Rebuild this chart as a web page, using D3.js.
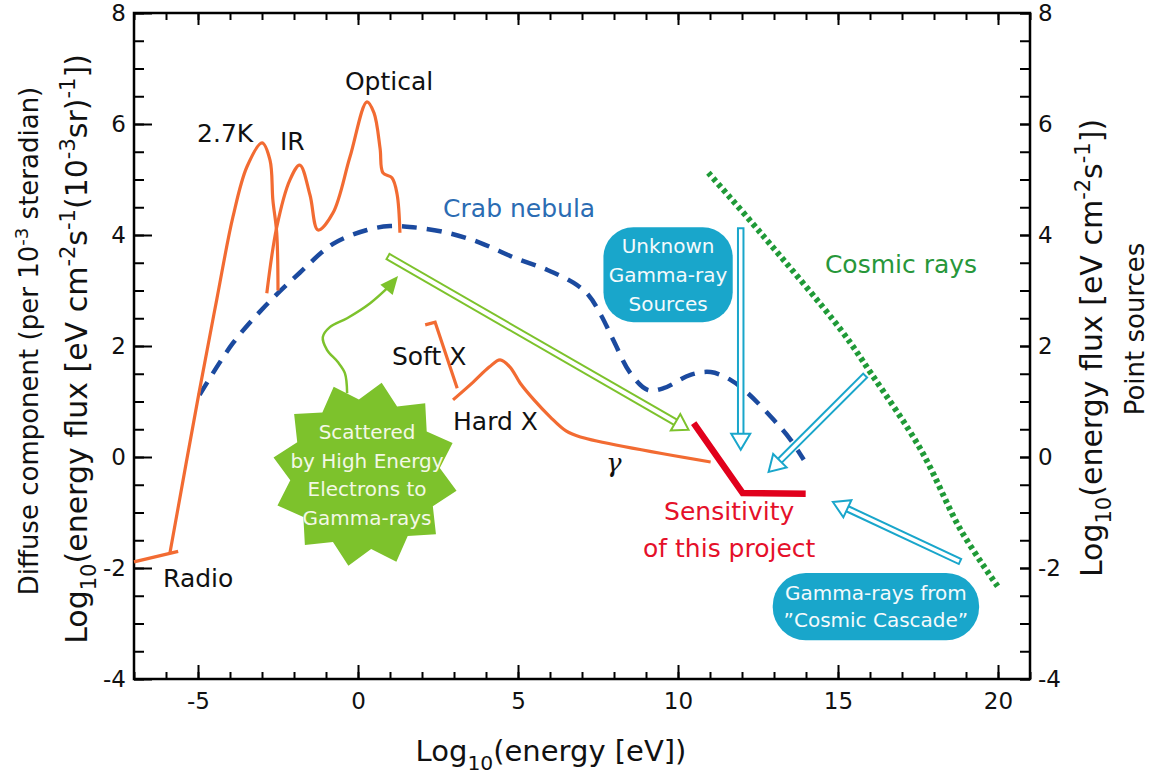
<!DOCTYPE html>
<html>
<head>
<meta charset="UTF-8">
<title>Diffuse and point-source energy flux</title>
<script src="https://d3js.org/d3.v7.min.js"></script>
<style>
  body { margin: 0; background: #fff; }
  svg { font-family: "DejaVu Sans", sans-serif; }
  text { white-space: pre; }
</style>
</head>
<body>
<svg width="1151" height="774"></svg>
<script>
// axis tick labels
const xTicks = [-5, 0, 5, 10, 15, 20];
const yTicks = [-4, -2, 0, 2, 4, 6, 8];

// diffuse background, [log10 E (eV), log10 flux]
const radio = [[-7.0, -1.89], [-5.62, -1.70]];
const cmb = [[-5.88, -1.74], [-4.98, 1.12], [-4.41, 2.85], [-3.91, 4.32], [-3.47, 5.23],
  [-3.0, 5.66], [-2.75, 5.35], [-2.66, 4.63], [-2.54, 4.04], [-2.5, 3.0]];
const irOptical = [[-2.85, 2.95], [-2.54, 4.14], [-2.13, 4.99], [-1.82, 5.26], [-1.5, 4.72],
  [-1.25, 4.09], [-0.78, 4.40], [-0.25, 5.41], [0.28, 6.40], [0.5, 6.2], [0.69, 5.56],
  [0.78, 5.12], [1.06, 5.03], [1.22, 4.74], [1.31, 4.04]];
const softX = [[2.10, 2.38], [2.41, 2.43], [3.10, 1.24]];
const hardX = [[2.97, 1.03], [3.6, 1.35], [4.1, 1.62], [4.44, 1.75], [4.75, 1.62], [5.07, 1.33],
  [5.5, 1.03], [6.01, 0.72], [6.5, 0.47], [6.95, 0.36], [11.02, -0.09]];

// point sources
const crab = [[-4.95, 1.12], [-3.91, 2.05], [-2.9, 2.72], [-1.82, 3.32], [-0.78, 3.84],
  [0.28, 4.09], [1.0, 4.16], [1.72, 4.14], [2.79, 4.04], [3.82, 3.86], [4.85, 3.60],
  [5.92, 3.37], [6.73, 3.14], [7.2, 2.92], [7.6, 2.55], [8.0, 2.08], [8.5, 1.52], [9.05, 1.21],
  [9.55, 1.24], [10.39, 1.48], [11.02, 1.53], [11.64, 1.39], [12.18, 1.15], [12.99, 0.67],
  [13.52, 0.31], [13.93, -0.05]];
const cosmicRays = [[10.95, 5.12], [12.58, 4.04], [15.09, 2.29], [16.03, 1.51],
  [17.59, 0.13], [18.84, -1.32], [20.0, -2.34]];
const sensitivity = [[10.49, 0.61], [12.02, -0.65], [13.99, -0.66]];

// annotations (data units)
const greenArrow = [[0.91, 3.62], [10.33, 0.49]];
const cyanArrows = [
  [[11.96, 4.14], [11.96, 0.13]],
  [[15.87, 1.48], [12.83, -0.27]],
  [[18.84, -1.89], [14.84, -0.81]]
];
const curl = [[-0.34, 1.15], [-0.41, 1.51], [-0.63, 1.71], [-0.97, 1.93], [-1.10, 2.16],
  [-0.88, 2.34], [-0.34, 2.50], [0.38, 2.77], [1.02, 3.10]];
const curlTip = [1.25, 3.26];
const starCenter = [0.22, -0.31];
const starLines = ['Scattered', 'by High Energy', 'Electrons to', 'Gamma-rays'];
const unknownBox = { x0: 7.67, x1: 11.71, y0: 4.14, y1: 2.43, lines: ['Unknown', 'Gamma-ray', 'Sources'] };
const cascadeBox = { x0: 12.96, x1: 19.41, y0: -2.09, y1: -3.30, lines: ['Gamma-rays from', '\u201DCosmic Cascade\u201D'] };

const labels = [
  { t: '2.7K', p: [-5.03, 5.68], c: '#111' },
  { t: 'IR', p: [-2.44, 5.53], c: '#111' },
  { t: 'Optical', p: [-0.41, 6.61], c: '#111' },
  { t: 'Crab nebula', p: [2.66, 4.32], c: '#2b6cb3' },
  { t: 'Cosmic rays', p: [14.59, 3.32], c: '#27973a' },
  { t: 'Soft X', p: [1.06, 1.66], c: '#111' },
  { t: 'Hard X', p: [2.97, 0.49], c: '#111' },
  { t: 'Radio', p: [-6.09, -2.34], c: '#111' }
];

const svg = d3.select('svg');
const x = d3.scaleLinear().domain([-7, 21]).range([134, 1030]);
const y = d3.scaleLinear().domain([-4, 8]).range([679, 13]);
const P = d => [x(d[0]), y(d[1])];

const orange = '#f26b32', navy = '#1b4a9f', cyan = '#19a6cb', lime = '#7dc22c';

function rich(text, parts, size) {
  let shift = 0;
  parts.forEach(([s, mode]) => {
    const target = mode === 'sup' ? -0.4 * size : mode === 'sub' ? 0.3 * size : 0;
    const t = text.append('tspan').text(s).attr('dy', target - shift);
    if (mode) t.attr('font-size', size * 0.7);
    shift = target;
  });
}

function styleAxis(g) {
  g.select('.domain').remove();
  g.selectAll('line').attr('stroke', '#000').attr('stroke-width', 2);
  g.selectAll('text').attr('font-size', 23).attr('font-family', 'DejaVu Sans').attr('fill', '#111');
}

// axes, ticks pointing inwards
const fmt = d => String(d);
svg.append('g').attr('transform', 'translate(0,679)')
  .call(d3.axisBottom(x).tickValues(d3.range(-7, 22)).tickSize(-7).tickFormat('')).call(styleAxis);
svg.append('g').attr('transform', 'translate(0,679)')
  .call(d3.axisBottom(x).tickValues(xTicks).tickSize(-14).tickPadding(14).tickFormat(fmt)).call(styleAxis);
svg.append('g').attr('transform', 'translate(0,13)')
  .call(d3.axisTop(x).tickValues(d3.range(-7, 22)).tickSize(-7).tickFormat('')).call(styleAxis);
svg.append('g').attr('transform', 'translate(0,13)')
  .call(d3.axisTop(x).tickValues(xTicks).tickSize(-12).tickFormat('')).call(styleAxis);
svg.append('g').attr('transform', 'translate(134,0)')
  .call(d3.axisLeft(y).tickValues(d3.range(-4, 8.01, 0.5)).tickSize(-10).tickFormat('')).call(styleAxis);
svg.append('g').attr('transform', 'translate(134,0)')
  .call(d3.axisLeft(y).tickValues(yTicks).tickSize(-18).tickPadding(8).tickFormat(fmt)).call(styleAxis);
svg.append('g').attr('transform', 'translate(1030,0)')
  .call(d3.axisRight(y).tickValues(d3.range(-4, 8.01, 0.5)).tickSize(-10).tickFormat('')).call(styleAxis);
svg.append('g').attr('transform', 'translate(1030,0)')
  .call(d3.axisRight(y).tickValues(yTicks).tickSize(-10).tickPadding(8).tickFormat(fmt)).call(styleAxis);

svg.append('rect')
  .attr('x', x(-7)).attr('y', y(8))
  .attr('width', x(21) - x(-7)).attr('height', y(-4) - y(8))
  .attr('fill', 'none').attr('stroke', '#000').attr('stroke-width', 2.5);

// axis titles
const xt = svg.append('text').attr('x', 551).attr('y', 761).attr('text-anchor', 'middle')
  .attr('font-size', 29).attr('fill', '#111');
rich(xt, [['Log', ''], ['10', 'sub'], ['(energy [eV])', '']], 29);

const yt1 = svg.append('text').attr('transform', 'translate(38,341) rotate(-90)')
  .attr('text-anchor', 'middle').attr('font-size', 26).attr('fill', '#111');
rich(yt1, [['Diffuse component (per 10', ''], ['-3', 'sup'], [' steradian)', '']], 26);

const yt2 = svg.append('text').attr('transform', 'translate(87,349) rotate(-90)')
  .attr('text-anchor', 'middle').attr('font-size', 30).attr('fill', '#111');
rich(yt2, [['Log', ''], ['10', 'sub'], ['(energy flux [eV cm', ''], ['-2', 'sup'], ['s', ''],
  ['-1', 'sup'], ['(10', ''], ['-3', 'sup'], ['sr)', ''], ['-1', 'sup'], ['])', '']], 30);

const yt3 = svg.append('text').attr('transform', 'translate(1102,348) rotate(-90)')
  .attr('text-anchor', 'middle').attr('font-size', 30).attr('fill', '#111');
rich(yt3, [['Log', ''], ['10', 'sub'], ['(energy flux [eV cm', ''], ['-2', 'sup'], ['s', ''],
  ['-1', 'sup'], ['])', '']], 30);

svg.append('text').attr('transform', 'translate(1144,329) rotate(-90)')
  .attr('text-anchor', 'middle').attr('font-size', 26).attr('fill', '#111').text('Point sources');

// starburst
const [scx, scy] = P(starCenter);
const nPts = 12, rOut = 93, rIn = 75;
const starPts = d3.range(nPts * 2).map(i => {
  const a = -Math.PI / 2 + 0.18 + i * Math.PI / nPts;
  const r = i % 2 ? rIn : rOut;
  return [scx + r * Math.cos(a), scy + r * Math.sin(a)];
});
svg.append('polygon').attr('points', starPts.map(p => p.join(',')).join(' ')).attr('fill', lime);
svg.append('g').selectAll('text').data(starLines).join('text')
  .attr('x', scx + 2).attr('y', (d, i) => scy - 35 + i * 28.5)
  .attr('text-anchor', 'middle').attr('font-size', 20).attr('fill', '#f3f8e6').text(d => d);

// curly arrow from the star
const line = d3.line().x(d => x(d[0])).y(d => y(d[1])).curve(d3.curveCatmullRom.alpha(0.5));
svg.append('path').attr('d', line(curl)).attr('fill', 'none').attr('stroke', lime).attr('stroke-width', 2.5);
(function () {
  const [bx, by] = P(curl[curl.length - 1]);
  const [tx, ty] = P(curlTip);
  const dx = tx - bx, dy = ty - by, L = Math.hypot(dx, dy);
  const ux = dx / L, uy = dy / L, hl = 18, hw = 8;
  const b0 = [tx - ux * hl, ty - uy * hl];
  svg.append('polygon')
    .attr('points', [[tx, ty], [b0[0] - uy * hw, b0[1] + ux * hw], [b0[0] + uy * hw, b0[1] - ux * hw]].map(p => p.join(',')).join(' '))
    .attr('fill', lime);
})();

// hollow double-line arrows
function hollowArrow(from, to, color, shaftW, headW, headL) {
  const [x0, y0] = P(from), [x1, y1] = P(to);
  const dx = x1 - x0, dy = y1 - y0, L = Math.hypot(dx, dy);
  const ux = dx / L, uy = dy / L;
  const bx = x1 - ux * headL, by = y1 - uy * headL;
  const g = svg.append('g');
  g.append('line').attr('x1', x0).attr('y1', y0).attr('x2', bx).attr('y2', by)
    .attr('stroke', color).attr('stroke-width', shaftW);
  g.append('line').attr('x1', x0 + ux * 2).attr('y1', y0 + uy * 2).attr('x2', bx).attr('y2', by)
    .attr('stroke', '#fff').attr('stroke-width', shaftW - 4);
  g.append('polygon')
    .attr('points', [[x1, y1], [bx - uy * headW / 2, by + ux * headW / 2], [bx + uy * headW / 2, by - ux * headW / 2]]
      .map(p => p.join(',')).join(' '))
    .attr('fill', '#fff').attr('stroke', color).attr('stroke-width', 2);
}
hollowArrow(greenArrow[0], greenArrow[1], lime, 8, 19, 15);

// crab nebula
svg.append('path').attr('d', line(crab)).attr('fill', 'none')
  .attr('stroke', navy).attr('stroke-width', 4.5).attr('stroke-dasharray', '15,10');

// diffuse components
[radio, cmb, irOptical].forEach(d => svg.append('path').attr('d', line(d)).attr('fill', 'none')
  .attr('stroke', orange).attr('stroke-width', 3.2).attr('stroke-linejoin', 'round'));
const straight = d3.line().x(d => x(d[0])).y(d => y(d[1]));
svg.append('path').attr('d', straight(softX)).attr('fill', 'none')
  .attr('stroke', orange).attr('stroke-width', 3.2);
svg.append('path').attr('d', line(hardX)).attr('fill', 'none')
  .attr('stroke', orange).attr('stroke-width', 3.2);

// cosmic rays
svg.append('path').attr('d', line(cosmicRays)).attr('fill', 'none')
  .attr('stroke', '#1f9a37').attr('stroke-width', 6).attr('stroke-dasharray', '4,3.5');

// sensitivity
svg.append('path').attr('d', straight(sensitivity)).attr('fill', 'none')
  .attr('stroke', '#e1001c').attr('stroke-width', 6.5).attr('stroke-linejoin', 'miter');

// cyan arrows
cyanArrows.forEach(a => hollowArrow(a[0], a[1], cyan, 7.5, 19, 16));

// boxes
[[unknownBox, 30], [cascadeBox, 33]].forEach(([b, r]) => {
  const bx = x(b.x0), by = y(b.y0), bw = x(b.x1) - x(b.x0), bh = y(b.y1) - y(b.y0);
  svg.append('rect').attr('x', bx).attr('y', by).attr('width', bw).attr('height', bh)
    .attr('rx', r).attr('ry', r).attr('fill', cyan);
  const n = b.lines.length;
  svg.append('g').selectAll('text').data(b.lines).join('text')
    .attr('x', bx + bw / 2).attr('y', (d, i) => by + bh / 2 + (i - (n - 1) / 2) * (n > 2 ? 29 : 27) + 7)
    .attr('text-anchor', 'middle').attr('font-size', 20).attr('fill', '#f4fafc').text(d => d);
});

// curve labels
svg.append('g').selectAll('text').data(labels).join('text')
  .attr('x', d => x(d.p[0])).attr('y', d => y(d.p[1]))
  .attr('font-size', 25).attr('fill', d => d.c).text(d => d.t);
svg.append('text').attr('x', x(7.75)).attr('y', y(-0.27)).attr('font-size', 26)
  .attr('font-style', 'italic').attr('font-family', 'DejaVu Serif').attr('fill', '#111').text('\u03B3');
svg.append('g').selectAll('text').data(['Sensitivity', 'of this project']).join('text')
  .attr('x', x(11.6)).attr('y', (d, i) => y(-1.14) + i * 37)
  .attr('text-anchor', 'middle').attr('font-size', 25).attr('fill', '#e5102a').text(d => d);
</script>
</body>
</html>
